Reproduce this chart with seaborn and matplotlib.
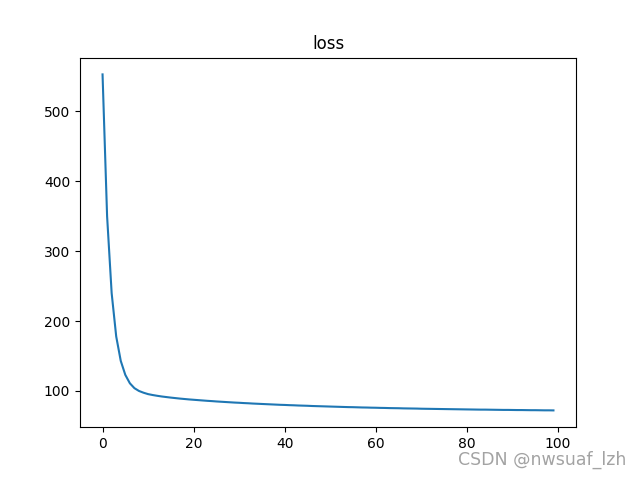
import seaborn as sns
import matplotlib.pyplot as plt
import pandas as pd

# loss per epoch
epochs = list(range(100))
loss = [
    553, 350, 240, 178, 143, 123, 111, 104, 100, 97.5,
    95.5, 94.2, 93.1, 92.1, 91.3, 90.5, 89.8, 89.1, 88.5, 87.9,
    87.4, 86.9, 86.4, 85.9, 85.5, 85.0, 84.6, 84.2, 83.8, 83.4,
    83.1, 82.7, 82.4, 82.0, 81.7, 81.4, 81.1, 80.8, 80.5, 80.2,
    80.0, 79.7, 79.5, 79.2, 79.0, 78.8, 78.5, 78.3, 78.1, 77.9,
    77.7, 77.5, 77.3, 77.1, 76.9, 76.8, 76.6, 76.4, 76.3, 76.1,
    76.0, 75.8, 75.7, 75.5, 75.4, 75.3, 75.1, 75.0, 74.9, 74.8,
    74.6, 74.5, 74.4, 74.3, 74.2, 74.1, 74.0, 73.9, 73.8, 73.7,
    73.6, 73.5, 73.4, 73.3, 73.3, 73.2, 73.1, 73.0, 72.9, 72.9,
    72.8, 72.7, 72.7, 72.6, 72.5, 72.5, 72.4, 72.3, 72.3, 72.2,
]

df = pd.DataFrame({"epoch": epochs, "loss": loss})

fig = plt.figure(figsize=(6.4, 4.8), dpi=100)
ax = sns.lineplot(x="epoch", y="loss", data=df, color="#1f77b4")
ax.set_title("loss")
ax.set_xlabel("")
ax.set_ylabel("")

fig.text(0.978, 0.022, "CSDN @nwsuaf_lzh", ha="right", va="bottom",
         fontsize=12.5, color="#999999", alpha=0.9)

plt.savefig("out.png")
